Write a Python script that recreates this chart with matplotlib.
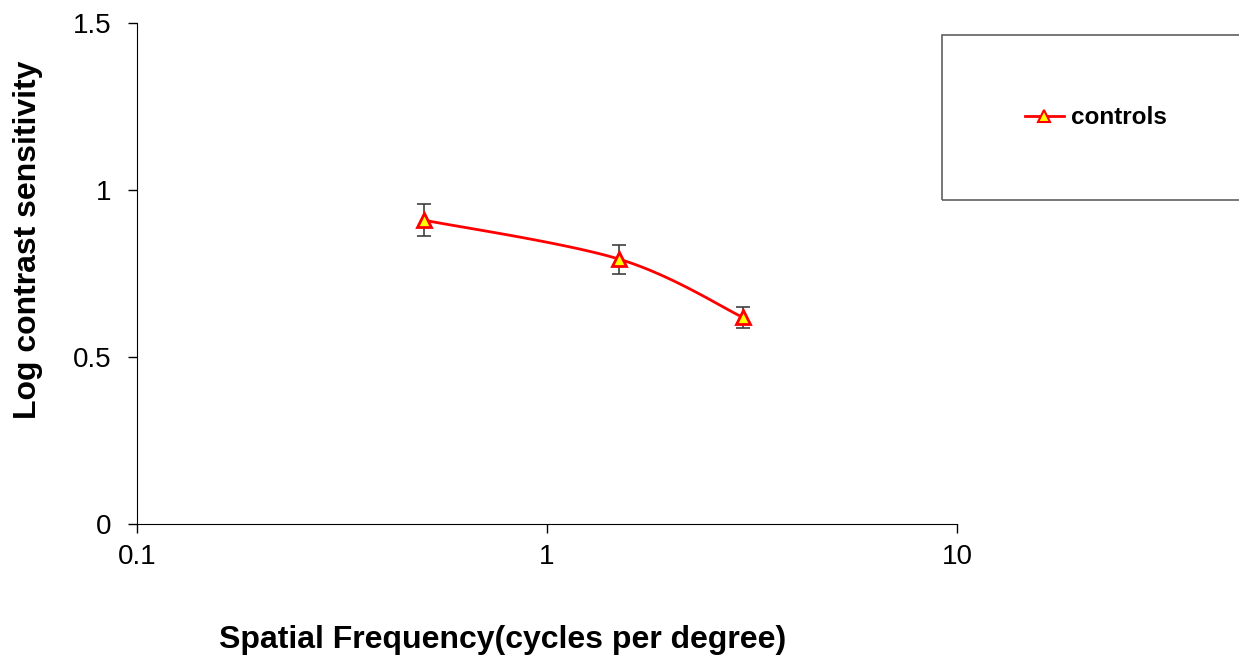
import numpy as np
import matplotlib.pyplot as plt
from matplotlib.patches import Rectangle

plt.rcParams['font.family'] = ['Liberation Sans', 'DejaVu Sans']

# ── Data ─────────────────────────────────────────────────────
freq = [0.5, 1.5, 3.0]
sensitivity = [0.91, 0.793, 0.619]
err = [0.048, 0.043, 0.032]
label = 'controls'


def catmull_rom(xs, ys, n=40):
    # Excel-style smoothed line through the points
    px = [xs[0]] + list(xs) + [xs[-1]]
    py = [ys[0]] + list(ys) + [ys[-1]]
    out_x, out_y = [], []
    t = np.linspace(0, 1, n)
    for i in range(1, len(px) - 2):
        p0, p1, p2, p3 = [np.array([px[j], py[j]]) for j in range(i - 1, i + 3)]
        c1 = p1 + (p2 - p0) / 6
        c2 = p2 - (p3 - p1) / 6
        seg = ((1 - t) ** 3)[:, None] * p1 + (3 * (1 - t) ** 2 * t)[:, None] * c1 \
            + (3 * (1 - t) * t ** 2)[:, None] * c2 + (t ** 3)[:, None] * p2
        out_x.extend(seg[:, 0])
        out_y.extend(seg[:, 1])
    return np.array(out_x), np.array(out_y)


fig = plt.figure(figsize=(12.39, 6.56), dpi=100)
ax = fig.add_axes([0.1106, 0.2012, 0.6618, 0.7637])

lx, ly = catmull_rom(np.log10(freq), sensitivity)
ax.plot(10 ** lx, ly, color='red', lw=2, zorder=2)
ax.errorbar(freq, sensitivity, yerr=err, fmt='none', ecolor='#404040',
            elinewidth=1.2, capsize=5, capthick=1.2, zorder=3)
ax.plot(freq, sensitivity, linestyle='none', marker='^', markersize=10,
        markerfacecolor='yellow', markeredgecolor='red', markeredgewidth=2, zorder=4)

ax.set_xscale('log')
ax.set_xlim(0.1, 10)
ax.set_ylim(0, 1.5)
ax.set_xticks([0.1, 1, 10])
ax.set_xticklabels(['0.1', '1', '10'])
ax.xaxis.set_minor_locator(plt.NullLocator())
ax.set_yticks([0, 0.5, 1, 1.5])
ax.set_yticklabels(['0', '0.5', '1', '1.5'])
ax.tick_params(direction='out', length=6.5, width=1, labelsize=20, pad=12)
ax.tick_params(axis='x', pad=8)
for s in ['top', 'right']:
    ax.spines[s].set_visible(False)

# axis titles placed as in the reference (not centred on the axes)
fig.text(28 / 1239, 1 - 240 / 656, 'Log contrast sensitivity', rotation=90,
         ha='center', va='center', fontsize=23, fontweight='bold')
fig.text(503 / 1239, 1 - 640 / 656, 'Spatial Frequency(cycles per degree)',
         ha='center', va='center', fontsize=23, fontweight='bold')

# legend box, cut off at right edge as in the reference
fig.patches.append(Rectangle((942 / 1239, 1 - 200 / 656), 0.3, 165 / 656,
                             transform=fig.transFigure, fill=False,
                             edgecolor='#606060', lw=1.2))
h, = ax.plot([], [], color='red', lw=2, marker='^', markersize=8,
             markerfacecolor='yellow', markeredgecolor='red', markeredgewidth=1.5)
fig.legend([h], [label], loc='center left', bbox_to_anchor=(1025 / 1239, 1 - 118 / 656),
           frameon=False, prop={'size': 17.5, 'weight': 'bold'}, handlelength=1.6,
           handletextpad=0.3, borderaxespad=0, borderpad=0)

fig.savefig('out.png', dpi=100)
